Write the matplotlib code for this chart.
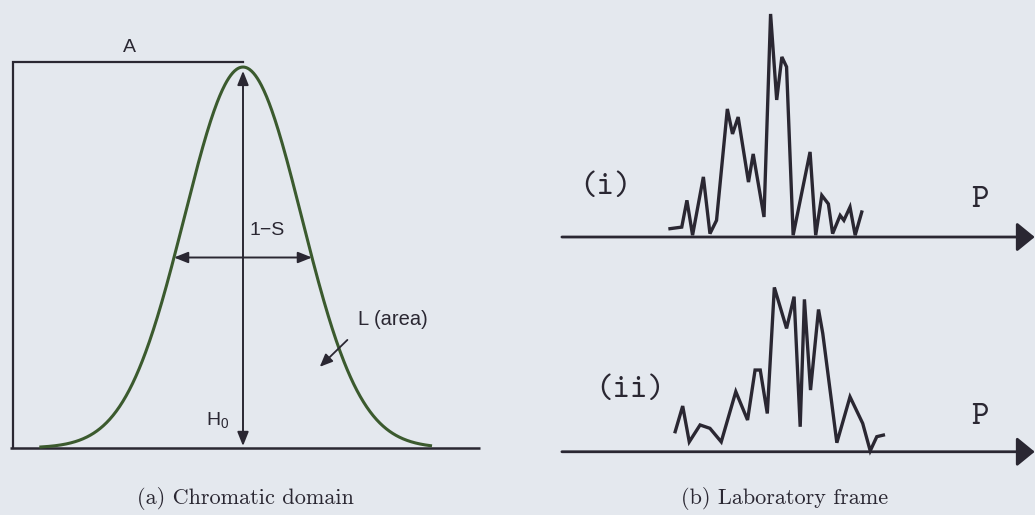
import numpy as np
import matplotlib
matplotlib.use("Agg")
import matplotlib.pyplot as plt

# ---- data -------------------------------------------------------------
# (a) Gaussian line shape in the chromatic domain (sigma units)
peak_center = 0.0
peak_sigma = 1.0
peak_height = 1.0
curve_range = [-3.45, 3.2]
baseline_range = [-3.98, 4.04]
box_left = -3.93

# (b) momentum spectra in the laboratory frame (arbitrary units)
p_i = [23.4, 25.9, 27.0, 28.2, 30.5, 31.9, 33.3, 35.6, 36.7, 37.9, 40.1, 41.1,
       43.4, 44.8, 46.1, 47.2, 48.2, 49.6, 53.2, 54.4, 55.7, 57.1, 58.0, 59.6,
       60.4, 61.7, 62.8, 64.2]
y_i = [3.7, 4.4, 16.3, 0.8, 26.7, 1.5, 7.4, 56.9, 45.8, 53.3, 24.4, 36.9,
       8.9, 99.1, 60.9, 80.0, 75.6, 0.8, 37.8, 0.8, 18.5, 14.7, 1.5, 9.6,
       7.4, 13.3, 0.8, 11.1]

p_ii = [24.5, 26.1, 27.5, 29.8, 31.9, 34.3, 37.4, 39.9, 41.5, 42.6, 44.1, 45.6,
        48.2, 49.8, 51.1, 52.0, 53.3, 55.0, 55.9, 58.9, 61.7, 64.4, 66.0, 67.4,
        68.8]
y_ii = [8.9, 20.3, 4.4, 11.9, 10.4, 4.4, 26.7, 14.1, 36.3, 36.3, 17.0, 73.0,
        54.8, 68.9, 11.1, 67.7, 27.4, 63.2, 52.6, 4.0, 24.4, 12.6, 0.4, 6.7,
        7.4]

p_axis = [0.4, 101.0]

# ---- style ------------------------------------------------------------
BG = "#e4e8ee"
INK = "#2a2732"
GREEN = "#3b5a2e"
SANS = "Liberation Sans"
MONO = "cmtt10"
SERIF = "cmr10"

W, H = 1035, 515
fig = plt.figure(figsize=(W / 100, H / 100), dpi=100, facecolor=BG)


def add_axes_px(x0, y0, x1, y1):
    """Axes placed by pixel box (top-left origin)."""
    ax = fig.add_axes([x0 / W, 1 - y1 / H, (x1 - x0) / W, (y1 - y0) / H])
    ax.set_facecolor("none")
    ax.axis("off")
    return ax


# ---- (a) chromatic domain --------------------------------------------
ax_a = add_axes_px(0, 0, 500, 515)
ax_a.set_xlim(-4.147, 4.386)
ax_a.set_ylim(-0.176, 1.176)

# baseline and left/top frame
ax_a.plot(baseline_range, [0, 0], color=INK, lw=1.8, solid_capstyle="butt")
ax_a.plot([box_left, box_left, peak_center], [0, peak_height + 0.012, peak_height + 0.012],
          color=INK, lw=1.6, solid_joinstyle="miter")

xs = np.linspace(curve_range[0], curve_range[1], 600)
ys = peak_height * np.exp(-0.5 * ((xs - peak_center) / peak_sigma) ** 2)
ax_a.plot(xs, ys, color=GREEN, lw=2.2)

arrow_kw = dict(arrowstyle="<|-|>,head_length=0.7,head_width=0.28",
                color=INK, lw=1.4, mutation_scale=12, shrinkA=0, shrinkB=0)
# height arrow
ax_a.annotate("", xy=(peak_center, 0.005), xytext=(peak_center, peak_height - 0.01),
              arrowprops=arrow_kw)
# half-width arrow at half maximum
hw = peak_sigma * np.sqrt(2 * np.log(2))
ax_a.annotate("", xy=(peak_center - hw, 0.5 * peak_height),
              xytext=(peak_center + hw, 0.5 * peak_height), arrowprops=arrow_kw)

ax_a.text(-1.93, 1.052, "A", family=SANS, fontsize=14, color=INK,
          ha="center", va="center")
ax_a.text(0.41, 0.572, "1\u2212S", family=SANS, fontsize=14, color=INK,
          ha="center", va="center")
ax_a.text(-0.43, 0.072, "H$_\\mathregular{0}$", family=SANS, fontsize=14,
          color=INK, ha="center", va="center")
ax_a.annotate("L (area)", xy=(1.31, 0.213), xytext=(2.56, 0.336),
              family=SANS, fontsize=14.5, color=INK, ha="center", va="center",
              arrowprops=dict(arrowstyle="-|>,head_length=0.7,head_width=0.3",
                              color=INK, lw=1.3, mutation_scale=11,
                              shrinkA=8, shrinkB=0, relpos=(0.0, 0.0)))

# ---- (b) laboratory frame --------------------------------------------
def spectrum(ax, p, y, label, label_xy, p_xy):
    ax.set_xlim(-4.26, 101.06)
    ax.annotate("", xy=(p_axis[1], 0), xytext=(p_axis[0], 0),
                arrowprops=dict(arrowstyle="-|>,head_length=0.55,head_width=0.45",
                                color=INK, lw=2.0, mutation_scale=20,
                                shrinkA=0, shrinkB=0))
    ax.plot(p, y, color=INK, lw=2.4, solid_joinstyle="miter")
    ax.text(*label_xy, label, family=MONO, fontsize=24, color=INK,
            ha="center", va="center")
    ax.text(*p_xy, "P", family=MONO, fontsize=24, color=INK,
            ha="center", va="center")


ax_i = add_axes_px(540, 0, 1035, 280)
ax_i.set_ylim(-19.1, 105.3)
spectrum(ax_i, p_i, y_i, "(i)", (9.6, 21.8), (89.4, 16.4))

ax_ii = add_axes_px(540, 280, 1035, 515)
ax_ii.set_ylim(-28.1, 76.3)
spectrum(ax_ii, p_ii, y_ii, "(ii)", (14.9, 27.4), (89.4, 15.4))

# ---- captions ---------------------------------------------------------
fig.text(245 / W, 1 - 498 / H, "(a) Chromatic domain", family=SERIF,
         fontsize=16, color=INK, ha="center", va="center")
fig.text(785 / W, 1 - 498 / H, "(b) Laboratory frame", family=SERIF,
         fontsize=16, color=INK, ha="center", va="center")

fig.savefig("out.png", dpi=100, facecolor=BG)
